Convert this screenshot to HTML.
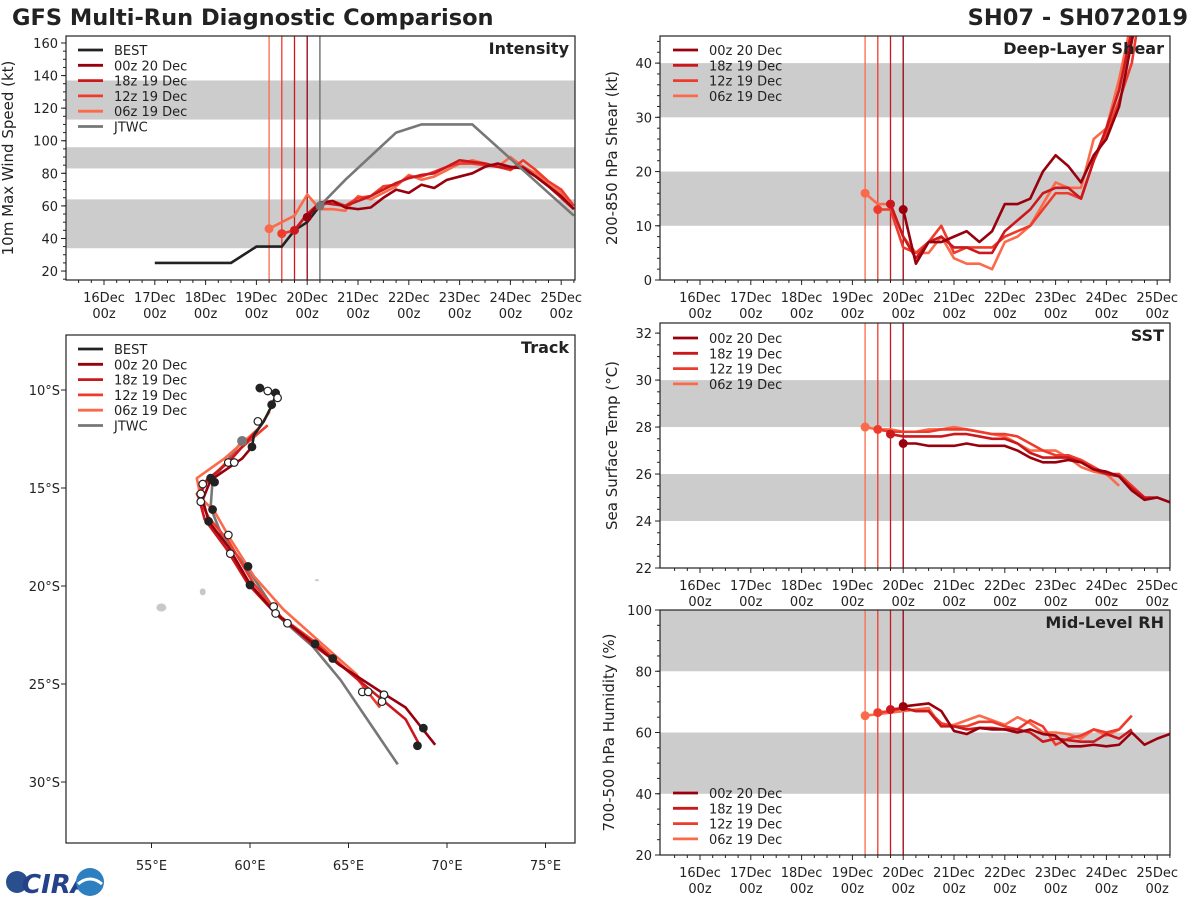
<!DOCTYPE html>
<html><head><meta charset="utf-8">
<style>
html,body{margin:0;padding:0;background:#fff;}
svg{display:block;font-family:"DejaVu Sans","Liberation Sans",sans-serif;}
text{fill:#222;}
</style></head>
<body>
<svg id="fig" width="1200" height="900" viewBox="0 0 1200 900" xmlns="http://www.w3.org/2000/svg">
<text x="12" y="25" font-size="22.5" font-weight="bold">GFS Multi-Run Diagnostic Comparison</text>
<text x="1188" y="25" font-size="22.5" font-weight="bold" text-anchor="end">SH07 - SH072019</text>
<g>
<circle cx="17" cy="882" r="11" fill="#2a4f8f"/>
<text x="22" y="893" font-size="26" font-weight="bold" font-style="italic" fill="#24418a" style="fill:#24418a">CIRA</text>
<circle cx="90" cy="882" r="14" fill="#2e7fc0"/>
<path d="M78 884 Q90 874 102 884" stroke="#fff" stroke-width="3" fill="none"/>
</g>
</svg>
<script>
// ---------- DATA ----------
const runNames = ["00z 20 Dec","18z 19 Dec","12z 19 Dec","06z 19 Dec"];
const runStartHours = [96,90,84,78];
const dayTickLabels = ["16Dec","17Dec","18Dec","19Dec","20Dec","21Dec","22Dec","23Dec","24Dec","25Dec"];
// Intensity (kt), 6-hourly from run start
const int00z20 = [53,62,63,59,58,59,65,70,68,73,71,76,78,80,84,86,84,83,78,72,66,58];
const int18z19 = [45,55,62,61,60,63,66,70,74,77,79,80,84,88,87,86,84,83,84,78,72,65,58];
const int12z19 = [43,45,55,60,63,60,65,66,72,73,78,78,81,84,86,86,85,84,82,88,82,75,70,60];
const int06z19 = [46,50,54,67,58,58,57,66,64,68,72,79,76,78,82,86,88,86,84,90,84,80,73,68,60];
const bestHours = [24,36,48,60,72,84,90,96,102];
const bestInt = [25,25,25,25,35,35,45,50,60];
const jtwcHours = [102,114,138,150,174,222];
const jtwcInt = [60,76,105,110,110,54];
// Shear (kt)
const shr00z20 = [13,3,7,7,8,9,7,9,14,14,15,20,23,21,18,23,26,32,44,56];
const shr18z19 = [14,8,4,7,8,6,6,5,5,9,11,13,16,17,17,15,22,28,35,46,56];
const shr12z19 = [13,13,6,5,7,10,5,6,6,6,8,9,10,13,16,16,15,22,27,33,40,55];
const shr06z19 = [16,14,14,8,5,5,8,4,3,3,2,7,8,10,14,18,17,17,26,28,37,48];
// SST (C)
const sst00z20 = [27.3,27.3,27.2,27.2,27.2,27.3,27.2,27.2,27.2,27.0,26.7,26.5,26.5,26.6,26.5,26.2,26.1,25.9,25.3,24.9,25.0,24.8];
const sst18z19 = [27.7,27.6,27.6,27.6,27.6,27.7,27.7,27.6,27.5,27.5,27.3,26.9,26.7,26.7,26.7,26.5,26.2,26.0,25.9,25.4,25.0,25.0];
const sst12z19 = [27.9,27.8,27.8,27.8,27.8,27.9,27.9,27.9,27.8,27.7,27.7,27.6,27.3,27.0,26.8,26.8,26.6,26.3,26.0,26.0,25.5,25.0];
const sst06z19 = [28.0,27.9,27.9,27.8,27.8,27.9,27.9,28.0,27.9,27.8,27.7,27.6,27.3,27.0,27.0,27.0,26.7,26.3,26.1,26.0,25.5];
// RH (%)
const rh00z20 = [68.5,69,69.5,67,60.5,59.5,61.5,61,61,60,61,59.5,59,55.5,55.5,56,55.5,56,60,56,58,59.5];
const rh18z19 = [67.5,68,67,67,62,62,61,61.5,61.5,61,61,60,57,58,57.5,57,57,59.5,58,61];
const rh12z19 = [66.5,67,68,67,67,63,62,62,63.5,63.5,62,61,64,62,56,58,59,61,60,61,65.5];
const rh06z19 = [65.5,66,66.5,67,67.5,68,62,62.5,64,65.5,64,62.5,65,63,60,60,59.5,58,61,59,61];
// Track (lon E, lat S)
const trkBestLon = [60.5,61.0,61.3,61.1,60.7,60.2,60.1];
const trkBestLat = [9.9,10.1,10.3,10.8,11.6,12.3,12.9];
const trkJtwcLon = [59.6,58.1,58.0,58.6,59.8,61.5,63.2,64.6,67.5];
const trkJtwcLat = [12.6,14.6,16.0,17.5,19.0,21.6,23.1,24.8,29.1];
const trk00z20Lon = [60.1,59.6,58.0,57.6,57.9,58.9,60.0,61.3,63.2,64.5,66.8,67.9,69.4];
const trk00z20Lat = [12.9,13.5,14.6,15.6,16.7,18.0,19.9,21.4,22.9,24.0,25.5,26.2,28.1];
const trk18z19Lon = [60.4,58.9,57.8,57.4,57.7,58.8,59.9,61.2,63.2,64.8,66.7,67.9,68.6];
const trk18z19Lat = [12.0,13.7,14.6,15.5,16.6,18.1,19.9,21.3,23.0,24.2,25.8,26.8,28.1];
const trk12z19Lon = [60.9,59.5,58.0,57.3,57.9,58.9,60.2,61.6,63.5,65.5,66.6];
const trk12z19Lat = [11.8,13.0,14.5,15.3,16.5,17.7,19.9,21.6,23.0,24.8,26.2];
const trk06z19Lon = [61.0,60.4,58.7,57.3,57.5,58.2,59.0,60.2,61.7,63.6,65.4,66.1];
const trk06z19Lat = [11.1,12.0,13.5,14.5,15.5,16.2,17.6,19.5,21.2,22.9,24.5,25.6];
const mkLon = [60.5,60.9,61.3,61.4,61.1,60.4,60.1,58.9,59.2,58.0,58.2,57.6,57.5,57.5,58.1,57.9,58.9,59.0,59.9,60.0,61.2,61.3,61.9,63.3,64.2,65.7,66.0,66.8,66.7,68.8,68.5];
const mkLat = [9.9,10.05,10.15,10.4,10.75,11.6,12.9,13.7,13.7,14.5,14.7,14.8,15.3,15.7,16.1,16.7,17.4,18.35,19.0,19.95,21.05,21.4,21.9,22.95,23.7,25.4,25.4,25.55,25.9,27.25,28.15];
const mkFilled = [1,0,1,0,1,0,1,0,0,1,1,0,0,0,1,1,0,0,1,1,0,0,0,1,1,0,0,0,0,1,1];
const runColors = ["#99000d","#cb181d","#ef3b2c","#fb6a4a"];

// ---------- HELPERS ----------
const NS="http://www.w3.org/2000/svg";
const svg=document.getElementById('fig');
function mk(tag,attrs,parent){const e=document.createElementNS(NS,tag);for(const k in attrs)e.setAttribute(k,attrs[k]);(parent||svg).appendChild(e);return e;}
function txt(s,attrs,parent){const e=mk('text',attrs,parent);e.textContent=s;return e;}

function makePanel(cfg){
  const g=mk('g',{});
  
  
  const sx=h=>cfg.x0+(h)*50.8/24;
  const sy=v=>cfg.y1-(v-cfg.vmin)/(cfg.vmax-cfg.vmin)*(cfg.y1-cfg.y0);
  cfg.bands.forEach(b=>{
    const r=mk('rect',{x:cfg.L,y:sy(b[1]),width:cfg.R-cfg.L,height:sy(b[0])-sy(b[1]),fill:'#cccccc'},g);
    
    
  });
  cfg.yticks.forEach(v=>{
    const y=sy(v);
    mk('line',{x1:cfg.L-5,x2:cfg.L,y1:y,y2:y,stroke:'#222'},g);
    const t=txt(String(v),{x:cfg.L-8,y:y+5,'font-size':13,'text-anchor':'end'},g);
    
    
  });
  for(let v=cfg.vmin0;v<=cfg.vmax;v+=cfg.minor){const y=sy(v);if(y>=cfg.y0&&y<=cfg.y1)mk('line',{x1:cfg.L-3,x2:cfg.L,y1:y,y2:y,stroke:'#222'},g);}
  dayTickLabels.forEach((d,i)=>{
    const x=sx(i*24);
    mk('line',{x1:x,x2:x,y1:cfg.y1,y2:cfg.y1+5,stroke:'#222'},g);
    const t1=txt(d,{x:x,y:cfg.y1+22,'font-size':13,'text-anchor':'middle'},g);
    
    
    txt('00z',{x:x,y:cfg.y1+38,'font-size':13,'text-anchor':'middle'},g);
  });
  for(let h=-12;h<=228;h+=6){const x=sx(h);if(x>cfg.L&&x<cfg.R&&h%24)mk('line',{x1:x,x2:x,y1:cfg.y1,y2:cfg.y1+3,stroke:'#222'},g);}
  const yt=txt(cfg.ytitle,{x:0,y:0,'font-size':15,'text-anchor':'middle',transform:`translate(${cfg.L-cfg.ytOff},${(cfg.y0+cfg.y1)/2}) rotate(-90)`},g);
  
  
  runStartHours.forEach((h,i)=>{
    if(cfg.initLines&&cfg.initLines.indexOf(i)<0)return;
    const l=mk('line',{x1:sx(h),x2:sx(h),y1:cfg.y0,y2:cfg.y1,stroke:runColors[i],'stroke-width':1.3},g);
    
    
  });
  return {g,sx,sy};
}
function drawSeries(p,cfg,start,vals,color,name,clip){
  const pts=vals.map((v,i)=>p.sx(start+6*i)+','+p.sy(v)).join(' ');
  const pl=mk('polyline',{points:pts,fill:'none',stroke:color,'stroke-width':2.6,'stroke-linejoin':'round','clip-path':clip},p.g);
  
  
  const c=mk('circle',{cx:p.sx(start),cy:p.sy(vals[0]),r:4.5,fill:color},p.g);
  
  
}
function frame(cfg,g){
  const r=mk('rect',{x:cfg.L,y:cfg.y0,width:cfg.R-cfg.L,height:cfg.y1-cfg.y0,fill:'none',stroke:'#222','stroke-width':1.2},g);
  
  
  const t=txt(cfg.title,{x:cfg.R-6,y:cfg.y0+18,'font-size':16,'font-weight':'bold','text-anchor':'end'},g);
  
  
}
function legend(g,x,y0,names,colors){
  names.forEach((n,i)=>{
    const y=y0+i*15.3;
    const ln=mk('line',{x1:x,x2:x+25,y1:y,y2:y,stroke:colors[i],'stroke-width':2.8},g);
    
    
    const t=txt(n,{x:x+36,y:y+5,'font-size':13},g);
    
    
  });
}
function clipRect(id,cfg){
  let defs=svg.querySelector('defs')||mk('defs',{});
  const cp=mk('clipPath',{id:id},defs);
  mk('rect',{x:cfg.L,y:cfg.y0,width:cfg.R-cfg.L,height:cfg.y1-cfg.y0},cp);
  return `url(#${id})`;
}
const runArrs={int:[int00z20,int18z19,int12z19,int06z19],shr:[shr00z20,shr18z19,shr12z19,shr06z19],sst:[sst00z20,sst18z19,sst12z19,sst06z19],rh:[rh00z20,rh18z19,rh12z19,rh06z19]};

// ---------- INTENSITY ----------
const cI={name:'intensity-panel',L:66,R:575,y0:36,y1:280,x0:104,vmin:14.5,vmax:164.3,vmin0:15,minor:5,yticks:[20,40,60,80,100,120,140,160],bands:[[34,64],[83,96],[113,137]],ytitle:'10m Max Wind Speed (kt)',title:'Intensity',ytOff:53};
const pI=makePanel(cI);
const jl=mk('line',{x1:pI.sx(102),x2:pI.sx(102),y1:cI.y0,y2:cI.y1,stroke:'#777','stroke-width':1.5},pI.g);


const clI=clipRect('clI',cI);
const bl=mk('polyline',{points:bestHours.map((h,i)=>pI.sx(h)+','+pI.sy(bestInt[i])).join(' '),fill:'none',stroke:'#222','stroke-width':2.6},pI.g);


for(let i=3;i>=0;i--)drawSeries(pI,cI,runStartHours[i],runArrs.int[i],runColors[i],'intensity-run-'+i,clI);
const jt=mk('polyline',{points:jtwcHours.map((h,i)=>pI.sx(h)+','+pI.sy(jtwcInt[i])).join(' '),fill:'none',stroke:'#777','stroke-width':2.6,'clip-path':clI},pI.g);


const jc=mk('circle',{cx:pI.sx(jtwcHours[0]),cy:pI.sy(jtwcInt[0]),r:4.5,fill:'#777'},pI.g);


frame(cI,pI.g);
legend(pI.g,78,50,['BEST'].concat(runNames,['JTWC']),['#222'].concat(runColors,['#777']));

// ---------- SHEAR ----------
const cS={name:'shear-panel',L:660,R:1170,y0:36,y1:280,x0:700,vmin:0,vmax:45,vmin0:0,minor:2,yticks:[0,10,20,30,40],bands:[[10,20],[30,40]],ytitle:'200-850 hPa Shear (kt)',title:'Deep-Layer Shear',ytOff:43};
const pS=makePanel(cS);
const clS=clipRect('clS',cS);
for(let i=3;i>=0;i--)drawSeries(pS,cS,runStartHours[i],runArrs.shr[i],runColors[i],'shear-run-'+i,clS);
frame(cS,pS.g);
legend(pS.g,673,50,runNames,runColors);

// ---------- SST ----------
const cT={name:'sst-panel',L:660,R:1170,y0:323,y1:568,x0:700,vmin:22,vmax:32.43,vmin0:22,minor:0.5,yticks:[22,24,26,28,30,32],bands:[[24,26],[28,30]],ytitle:'Sea Surface Temp (°C)',title:'SST',initLines:[],ytOff:43};
const pT=makePanel(cT);
[3,2,1,0].forEach(i=>{const h=runStartHours[i];const l=mk('line',{x1:pT.sx(h),x2:pT.sx(h),y1:cT.y0,y2:cT.y1,stroke:runColors[i],'stroke-width':1.3},pT.g);});
const clT=clipRect('clT',cT);
for(let i=3;i>=0;i--)drawSeries(pT,cT,runStartHours[i],runArrs.sst[i],runColors[i],'sst-run-'+i,clT);
frame(cT,pT.g);
legend(pT.g,673,338,runNames,runColors);

// ---------- RH ----------
const cR={name:'rh-panel',L:660,R:1170,y0:610,y1:855,x0:700,vmin:20,vmax:100,vmin0:20,minor:5,yticks:[20,40,60,80,100],bands:[[40,60],[80,100]],ytitle:'700-500 hPa Humidity (%)',title:'Mid-Level RH',ytOff:46};
const pR=makePanel(cR);
const clR=clipRect('clR',cR);
for(let i=3;i>=0;i--)drawSeries(pR,cR,runStartHours[i],runArrs.rh[i],runColors[i],'rh-run-'+i,clR);
frame(cR,pR.g);
legend(pR.g,673,793,runNames,runColors);

// ---------- TRACK ----------
const gK=mk('g',{});


const lx=lon=>250+(lon-60)*19.7;
const ly=lat=>390+(lat-10)*19.6;
const clK=clipRect('clK',{L:66,R:575,y0:335,y1:843});
[[55.5,21.1,5,4],[57.6,20.3,3,3.5],[63.4,19.7,2,1]].forEach(l=>{
  const e=mk('ellipse',{cx:lx(l[0]),cy:ly(l[1]),rx:l[2],ry:l[3],fill:'#c8c8c8'},gK);
  
  
});
[10,15,20,25,30].forEach(v=>{
  mk('line',{x1:61,x2:66,y1:ly(v),y2:ly(v),stroke:'#222'},gK);
  const t=txt(v+'°S',{x:60,y:ly(v)+5,'font-size':13,'text-anchor':'end'},gK);
  
  
});
[55,60,65,70,75].forEach(v=>{
  mk('line',{x1:lx(v),x2:lx(v),y1:843,y2:848,stroke:'#222'},gK);
  const t=txt(v+'°E',{x:lx(v),y:870,'font-size':13,'text-anchor':'middle'},gK);
  
  
});
function trk(lons,lats,color,name){
  const pl=mk('polyline',{points:lons.map((v,i)=>lx(v)+','+ly(lats[i])).join(' '),fill:'none',stroke:color,'stroke-width':2.6,'stroke-linejoin':'round','clip-path':clK},gK);
  
  
}
trk(trkJtwcLon,trkJtwcLat,'#777','jtwc-track');
trk(trk06z19Lon,trk06z19Lat,runColors[3],'track-06z19');
trk(trk12z19Lon,trk12z19Lat,runColors[2],'track-12z19');
trk(trk18z19Lon,trk18z19Lat,runColors[1],'track-18z19');
trk(trk00z20Lon,trk00z20Lat,runColors[0],'track-00z20');
trk(trkBestLon,trkBestLat,'#222','best-track');
mkLon.forEach((v,i)=>{
  const c=mk('circle',{cx:lx(v),cy:ly(mkLat[i]),r:3.8,fill:mkFilled[i]?'#222':'#fff',stroke:'#222','stroke-width':1.2},gK);
  
  
});
const jp=mk('circle',{cx:lx(trkJtwcLon[0]),cy:ly(trkJtwcLat[0]),r:5,fill:'#777'},gK);


frame({L:66,R:575,y0:335,y1:843,title:'Track'},gK);
legend(gK,78,349,['BEST'].concat(runNames,['JTWC']),['#222'].concat(runColors,['#777']));
</script>
</body></html>
